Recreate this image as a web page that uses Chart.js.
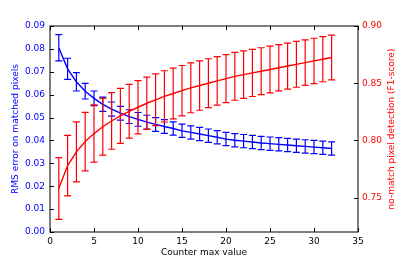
<!DOCTYPE html>
<html>
<head>
<meta charset="utf-8">
<script src="https://cdn.jsdelivr.net/npm/chart.js@4"></script>
<style>
  body { margin: 0; background: #fff; }
  #wrap { width: 399px; height: 266px; }
</style>
</head>
<body>
<div id="wrap"><canvas id="myChart" width="399" height="266"></canvas></div>
<script>
// counter max value
const counterMax = [1, 2, 3, 4, 5, 6, 7, 8, 9, 10, 11, 12, 13, 14, 15, 16,
  17, 18, 19, 20, 21, 22, 23, 24, 25, 26, 27, 28, 29, 30, 31, 32];

// RMS error on matched pixels (left axis)
const rmsError = [0.0805, 0.0713, 0.0656, 0.0615, 0.0584, 0.0558, 0.0537, 0.0519,
  0.0504, 0.0492, 0.0480, 0.0470, 0.0461, 0.0452, 0.0442, 0.0435,
  0.0428, 0.0421, 0.0414, 0.0406, 0.0401, 0.0397, 0.0393, 0.0389,
  0.0386, 0.0383, 0.0380, 0.0377, 0.0374, 0.0371, 0.0368, 0.0365];
const rmsErrorStd = [0.0057, 0.0046, 0.0040, 0.0034, 0.0032, 0.0031, 0.0031, 0.0030,
  0.0030, 0.0030, 0.0030, 0.0030, 0.0030, 0.0029, 0.0029, 0.0029,
  0.0029, 0.0029, 0.0029, 0.0029, 0.0029, 0.0029, 0.0029, 0.0029,
  0.0029, 0.0029, 0.0029, 0.0029, 0.0029, 0.0029, 0.0029, 0.0029];

// no-match pixel detection F1 (right axis)
const f1Score = [0.758, 0.778, 0.790, 0.799, 0.806, 0.812, 0.817, 0.8215,
  0.8255, 0.829, 0.8325, 0.8355, 0.8385, 0.841, 0.8435, 0.846,
  0.848, 0.850, 0.852, 0.854, 0.856, 0.8575, 0.859, 0.8605,
  0.862, 0.8635, 0.865, 0.8665, 0.868, 0.8695, 0.871, 0.8725];
const f1Std = [0.027, 0.0265, 0.0262, 0.0256, 0.025, 0.0248, 0.0247, 0.024,
  0.0235, 0.0232, 0.0228, 0.0226, 0.0224, 0.0222, 0.022, 0.0218,
  0.0216, 0.0214, 0.0212, 0.021, 0.0209, 0.0208, 0.0206, 0.0205,
  0.0204, 0.0202, 0.0201, 0.02, 0.0199, 0.0198, 0.0197, 0.0196];

const leftTicks = [0, 0.01, 0.02, 0.03, 0.04, 0.05, 0.06, 0.07, 0.08, 0.09];
const rightTicks = [0.75, 0.80, 0.85, 0.90];

const font = { family: 'DejaVu Sans', size: 9 };

// vertical error bars with caps, drawn right after each line
const errorBars = {
  id: 'errorBars',
  afterDatasetDraw(chart, args) {
    const ds = chart.data.datasets[args.index];
    if (!ds.errors) return;
    const xs = chart.scales.x;
    const ys = chart.scales[ds.yAxisID];
    const c = chart.ctx;
    c.save();
    c.strokeStyle = ds.borderColor;
    c.lineWidth = 1.2;
    ds.data.forEach((p, i) => {
      const px = xs.getPixelForValue(p.x);
      const top = ys.getPixelForValue(p.y + ds.errors[i]);
      const bot = ys.getPixelForValue(p.y - ds.errors[i]);
      c.beginPath();
      c.moveTo(px, top); c.lineTo(px, bot);
      c.moveTo(px - 3.5, top); c.lineTo(px + 3.5, top);
      c.moveTo(px - 3.5, bot); c.lineTo(px + 3.5, bot);
      c.stroke();
    });
    c.restore();
  }
};

// box frame, inward ticks and the right hand label
const frame = {
  id: 'frame',
  afterDraw(chart) {
    const c = chart.ctx;
    const a = chart.chartArea;
    const len = 4;
    c.save();
    c.strokeStyle = '#000';
    c.lineWidth = 1;
    c.strokeRect(a.left, a.top, a.right - a.left, a.bottom - a.top);
    c.beginPath();
    chart.scales.x.ticks.forEach(t => {
      const px = Math.round(chart.scales.x.getPixelForValue(t.value)) + 0.5;
      c.moveTo(px, a.bottom); c.lineTo(px, a.bottom - len);
      c.moveTo(px, a.top); c.lineTo(px, a.top + len);
    });
    chart.scales.y.ticks.forEach(t => {
      const py = Math.round(chart.scales.y.getPixelForValue(t.value)) + 0.5;
      c.moveTo(a.left, py); c.lineTo(a.left + len, py);
    });
    chart.scales.y1.ticks.forEach(t => {
      const py = Math.round(chart.scales.y1.getPixelForValue(t.value)) + 0.5;
      c.moveTo(a.right, py); c.lineTo(a.right - len, py);
    });
    c.stroke();

    c.translate(392, (a.top + a.bottom) / 2);
    c.rotate(-Math.PI / 2);
    c.fillStyle = '#ff0000';
    c.font = font.size + 'px ' + font.family;
    c.textAlign = 'center';
    c.textBaseline = 'middle';
    c.fillText('no-match pixel detection (F1-score)', 0, 0);
    c.restore();
  }
};

const ctx = document.getElementById('myChart');

new Chart(ctx, {
  type: 'line',
  data: {
    datasets: [{
      label: 'no-match pixel detection (F1-score)',
      data: counterMax.map((x, i) => ({ x: x, y: f1Score[i] })),
      errors: f1Std,
      yAxisID: 'y1',
      borderColor: '#ff0000',
      borderWidth: 1.4,
      pointRadius: 0,
      order: 0
    }, {
      label: 'RMS error on matched pixels',
      data: counterMax.map((x, i) => ({ x: x, y: rmsError[i] })),
      errors: rmsErrorStd,
      yAxisID: 'y',
      borderColor: '#0000ff',
      borderWidth: 1.4,
      pointRadius: 0,
      order: 1
    }]
  },
  options: {
    responsive: false,
    animation: false,
    layout: { padding: { top: 26 } },
    plugins: {
      legend: { display: false },
      tooltip: { enabled: false }
    },
    scales: {
      x: {
        type: 'linear',
        min: 0,
        max: 35,
        grid: { display: false, drawTicks: false },
        border: { display: false },
        ticks: { stepSize: 5, color: '#000', font: font, padding: 4, maxRotation: 0 },
        title: { display: true, text: 'Counter max value', color: '#000', font: font, padding: { top: 0, bottom: 8 } },
        afterFit(s) { s.height = 34; }
      },
      y: {
        position: 'left',
        min: 0,
        max: 0.09,
        grid: { display: false, drawTicks: false },
        border: { display: false },
        afterBuildTicks(s) { s.ticks = leftTicks.map(v => ({ value: v })); },
        ticks: { color: '#0000ff', font: font, padding: 5, callback: v => v.toFixed(2) },
        title: { display: true, text: 'RMS error on matched pixels', color: '#0000ff', font: font, padding: { top: 10, bottom: 0 } },
        afterFit(s) { s.width = 50; }
      },
      y1: {
        position: 'right',
        min: 0.72,
        max: 0.90,
        grid: { display: false, drawTicks: false },
        border: { display: false },
        afterBuildTicks(s) { s.ticks = rightTicks.map(v => ({ value: v })); },
        ticks: { color: '#ff0000', font: font, padding: 4, callback: v => v.toFixed(2) },
        afterFit(s) { s.width = 41; }
      }
    }
  },
  plugins: [errorBars, frame]
});
</script>
</body>
</html>
